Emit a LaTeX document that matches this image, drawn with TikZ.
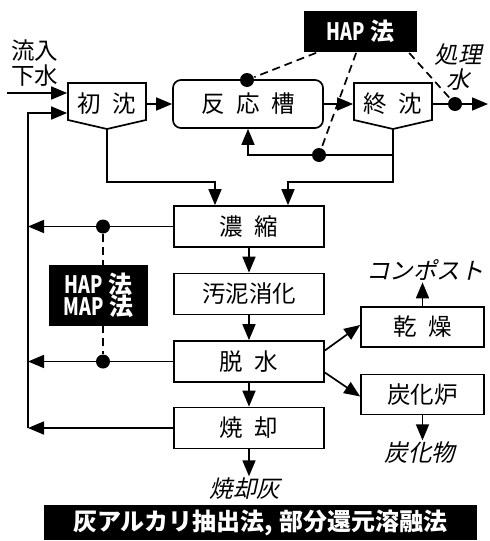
\documentclass[tikz,border=0pt]{standalone}
\usepackage{fontspec}
\setmainfont{Noto Sans CJK JP}
\newfontfamily\jpit{Noto Sans CJK JP}[FakeSlant=0.22]
\usetikzlibrary{arrows.meta,calc}
\newcommand{\jsp}{\hspace{0.5em}}
\newcommand{\hapt}{\scalebox{0.75}[1]{HAP}}
\begin{document}
\begin{tikzpicture}[x=1pt,y=-1pt,
 font=\fontsize{23.5}{25}\selectfont,
 line width=1.7pt,
 arr/.style={-{Triangle[length=16pt,width=13pt]}},
 box/.style={draw, minimum width=150pt, minimum height=41pt, inner sep=0pt},
 side/.style={draw, minimum width=123pt, minimum height=40pt, inner sep=0pt},
 blk/.style={fill=black, text=white, inner sep=0pt, font=\fontsize{24}{25}\selectfont\bfseries},
 jdot/.style={circle, fill=black, inner sep=0pt, minimum size=14pt},
 hd/.style={dash pattern=on 8pt off 5pt},
 it/.style={font=\jpit\fontsize{23.5}{25}\selectfont, inner sep=1pt}]
\useasboundingbox (0,0) rectangle (490,541);

% settling tanks and reactor
\node[minimum width=78pt, minimum height=42pt, inner sep=0pt] (s1) at (107,104) {初\jsp 沈};
\draw (68,83) -- (146,83) -- (146,120) -- (107,129) -- (68,120) -- cycle;
\coordinate (s1b) at (107,129);
\node[draw, rounded corners=8pt, minimum width=150pt, minimum height=48pt, inner sep=0pt] (rx) at (248,104) {反\jsp 応\jsp 槽};
\node[minimum width=78pt, minimum height=42pt, inner sep=0pt] (s2) at (393,104) {終\jsp 沈};
\draw (354,83) -- (432,83) -- (432,120) -- (393,129) -- (354,120) -- cycle;
\coordinate (s2b) at (393,129);

% sludge line
\node[box] (thk) at (249,226.5) {濃\jsp 縮};
\node[box] (dig) at (249,294) {汚泥消化};
\node[box] (dew) at (249,361.5) {脱\jsp 水};
\node[box] (inc) at (249,428) {焼\jsp 却};
\node[side] (dry) at (422.5,327) {乾\jsp 燥};
\node[side] (carb) at (422.5,394.5) {炭化炉};

% texts
\node[it] (comp) at (425,270) {コンポスト};
\node[it] (char) at (420,453) {炭化物};
\node[it] (ash) at (245,489) {焼却灰};
\node[it, align=center] (treated) at (458,67) {処理\\水};
\node[align=center, inner sep=0pt] (inflow) at (35,63) {流入\\下水};

\node[blk, minimum width=113pt, minimum height=41pt] (hap) at (360.5,31.5) {\hapt\ 法};

% dots
\node[jdot] (d1) at (247,80) {};
\node[jdot] (d2) at (319,155) {};
\node[jdot] (d3) at (455,104) {};
\node[jdot] (d4) at (103,226.5) {};
\node[jdot] (d5) at (103,361.5) {};

% connectors
\coordinate (in) at (7,93);
\draw[arr] (in) -- (in -| s1.west);
\coordinate (busT) at (28,113);
\coordinate (busB) at (28,428);
\draw[arr] (busB) -- (busT) -- (busT -| s1.west);
\draw[arr] (s1.east) -- (rx.west);
\draw[arr] (rx.east) -- (s2.west);
\coordinate (out) at (488,104);
\draw[arr] (s2.east) -- (out);
\coordinate (r1) at (393,155);
\draw[arr] (s2b) -- (r1) -| (rx.south);
\coordinate (j1) at (107,182);
\draw[arr] (s1b) -- (j1) -| ($(thk.north)+(-34,0)$);
\coordinate (j2) at (393,182);
\draw[arr] (s2b) -- (j2) -| ($(thk.north)+(39,0)$);
\draw[arr] (thk.west) -- (thk.west -| busT);
\draw[arr] (dew.west) -- (dew.west -| busT);
\draw[arr] (inc.west) -- (inc.west -| busT);
\draw[arr] (thk.south) -- (dig.north);
\draw[arr] (dig.south) -- (dew.north);
\draw[arr] (dew.south) -- (inc.north);
\draw[arr] (inc.south) -- (inc.south |- ash.north);
\draw[arr] ($(dew.east)+(0,-11)$) -- ($(dry.west)+(0,-2)$);
\draw[arr] ($(dew.east)+(0,11)$) -- ($(carb.west)+(0,2)$);
\draw[arr] (dry.north) -- (dry.north |- comp.south);
\draw[arr] (carb.south) -- (carb.south |- char.north);

% dashed HAP links
\draw[hd] ($(hap.south west)+(13,0)$) -- (d1);
\draw[hd] ($(hap.south west)+(53,0)$) -- (d2);
\draw[hd] ($(hap.south west)+(106,0)$) -- (d3);
\draw[hd] (d4) -- (d5);
\node[blk, minimum width=99pt, minimum height=61pt, align=center] (hapmap) at (98.5,295.5) {\hapt\ 法\\[-3pt]\scalebox{0.75}[1]{MAP}\ 法};

\node[blk, minimum width=433pt, minimum height=35pt] (bot) at (260.5,522.5) {灰アルカリ抽出法,\hspace{0.3em}部分還元溶融法};
\end{tikzpicture}
\end{document}
